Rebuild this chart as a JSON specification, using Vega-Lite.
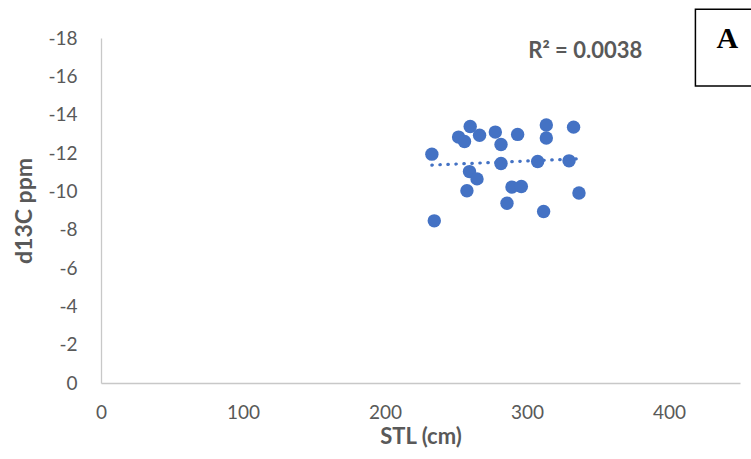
{
  "$schema": "https://vega.github.io/schema/vega-lite/v6.json",
  "width": 639,
  "height": 345,
  "autosize": {"type": "none"},
  "padding": {"left": 101, "top": 38, "right": 11, "bottom": 76},
  "background": "white",
  "config": {
    "view": {"stroke": null},
    "font": "Lato",
    "axis": {"labelOverlap": false, "labelBound": false, "labelFlush": false}
  },
  "data": {
    "values": [
      {"stl": 233.0, "d13c": -11.94},
      {"stl": 234.7, "d13c": -8.46},
      {"stl": 251.8, "d13c": -12.83},
      {"stl": 256.0, "d13c": -12.60},
      {"stl": 260.0, "d13c": -13.38},
      {"stl": 266.6, "d13c": -12.93},
      {"stl": 259.5, "d13c": -11.03},
      {"stl": 264.8, "d13c": -10.65},
      {"stl": 257.7, "d13c": -10.03},
      {"stl": 277.7, "d13c": -13.09},
      {"stl": 281.7, "d13c": -12.44},
      {"stl": 293.4, "d13c": -12.97},
      {"stl": 281.7, "d13c": -11.45},
      {"stl": 289.4, "d13c": -10.22},
      {"stl": 296.0, "d13c": -10.25},
      {"stl": 285.9, "d13c": -9.38},
      {"stl": 313.6, "d13c": -13.46},
      {"stl": 313.6, "d13c": -12.78},
      {"stl": 307.5, "d13c": -11.56},
      {"stl": 311.7, "d13c": -8.95},
      {"stl": 332.8, "d13c": -13.35},
      {"stl": 329.6, "d13c": -11.59},
      {"stl": 336.6, "d13c": -9.91}
    ]
  },
  "layer": [
    {
      "mark": {"type": "point", "filled": true, "size": 180, "color": "#4472C4", "opacity": 1},
      "encoding": {
        "x": {
          "field": "stl", "type": "quantitative",
          "scale": {"domain": [0, 450], "nice": false},
          "axis": {
            "values": [0, 100, 200, 300, 400], "tickCount": 10, "grid": false, "ticks": false,
            "domainColor": "#C8C8C8", "domainWidth": 1.3,
            "labelFont": "Lato", "labelFontSize": 19, "labelColor": "#595959", "labelPadding": 20,
            "title": "STL (cm)", "titleFont": "Lato", "titleFontSize": 22, "titleFontWeight": "bold",
            "titleColor": "#595959", "titlePadding": 4
          }
        },
        "y": {
          "field": "d13c", "type": "quantitative",
          "scale": {"domain": [-18, 0], "reverse": true, "nice": false},
          "axis": {
            "values": [-18, -16, -14, -12, -10, -8, -6, -4, -2, 0], "tickCount": 12, "grid": false, "ticks": false,
            "domainColor": "#C8C8C8", "domainWidth": 1.3,
            "labelFont": "Lato", "labelFontSize": 19, "labelColor": "#595959", "labelPadding": 24,
            "labelExpr": "datum.value < 0 ? '-' + (-datum.value) : '' + datum.value",
            "title": "d13C ppm", "titleFont": "Lato", "titleFontSize": 23, "titleFontWeight": "bold",
            "titleColor": "#595959", "titlePadding": 11
          }
        }
      }
    },
    {
      "transform": [{"regression": "d13c", "on": "stl"}],
      "mark": {"type": "line", "strokeDash": [0.5, 7.5], "strokeCap": "round", "strokeWidth": 3.2, "color": "#4472C4"},
      "encoding": {
        "x": {"field": "stl", "type": "quantitative"},
        "y": {"field": "d13c", "type": "quantitative"}
      }
    },
    {
      "data": {"values": [{"stl": 341, "d13c": -17.3, "label": "R² = 0.0038"}]},
      "mark": {"type": "text", "font": "Lato", "fontSize": 22, "fontWeight": "bold", "color": "#595959", "align": "center", "baseline": "middle"},
      "encoding": {
        "x": {"field": "stl", "type": "quantitative"},
        "y": {"field": "d13c", "type": "quantitative"},
        "text": {"field": "label"}
      }
    },
    {
      "data": {"values": [{"x0": 418.6, "x1": 470, "y0": -19.5, "y1": -15.5}]},
      "mark": {"type": "rect", "fill": "white", "stroke": "black", "strokeWidth": 1.5},
      "encoding": {
        "x": {"field": "x0", "type": "quantitative"},
        "x2": {"field": "x1"},
        "y": {"field": "y0", "type": "quantitative"},
        "y2": {"field": "y1"}
      }
    },
    {
      "data": {"values": [{"stl": 441, "d13c": -17.96, "label": "A"}]},
      "mark": {"type": "text", "font": "Liberation Serif", "fontSize": 30, "fontWeight": "bold", "color": "black", "align": "center", "baseline": "middle"},
      "encoding": {
        "x": {"field": "stl", "type": "quantitative"},
        "y": {"field": "d13c", "type": "quantitative"},
        "text": {"field": "label"}
      }
    }
  ]
}
